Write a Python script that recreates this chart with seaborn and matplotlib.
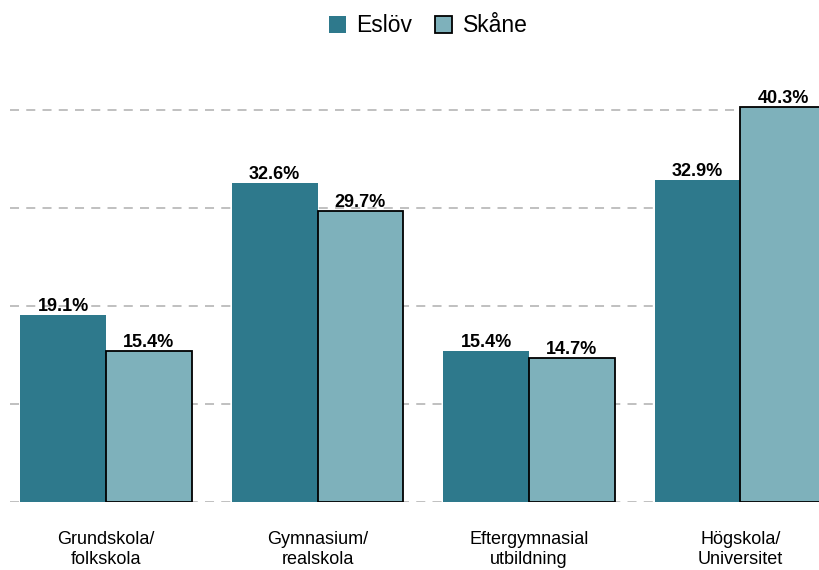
import matplotlib.pyplot as plt
import seaborn as sns
import pandas as pd

# -----------------------------
# Data
# -----------------------------
categories = ["Grundskola/\nfolkskola", "Gymnasium/\nrealskola",
              "Eftergymnasial\nutbildning", "Högskola/\nUniversitet"]
eslov = [19.1, 32.6, 15.4, 32.9]
skane = [15.4, 29.7, 14.7, 40.3]
series = ["Eslöv", "Skåne"]
colors = ["#2E798C", "#7EB1BB"]

df = pd.DataFrame({
    "Utbildning": categories * 2,
    "Andel": eslov + skane,
    "Område": [series[0]] * 4 + [series[1]] * 4,
})

sns.set_style("white")
plt.rcParams["font.family"] = ["Liberation Sans", "DejaVu Sans"]
plt.rcParams["text.color"] = "black"
plt.rcParams["xtick.color"] = "black"

fig = plt.figure(figsize=(8.2, 5.7), dpi=100)
ax = fig.add_axes([10 / 820, 1 - 502 / 570, 810 / 820, 441 / 570])

sns.barplot(data=df, x="Utbildning", y="Andel", hue="Område",
            palette=colors, width=0.81, saturation=1, ax=ax,
            legend=False, zorder=3)

# Skåne bars get a black outline
for bar in ax.containers[1]:
    bar.set_edgecolor("black")
    bar.set_linewidth(1.3)
for bar in ax.containers[0]:
    bar.set_edgecolor("none")

for cont in ax.containers:
    ax.bar_label(cont, labels=[f"{v:.1f}%" for v in cont.datavalues],
                 padding=0, fontsize=13, fontweight="bold", color="black")

ax.set_ylim(0, 45)
ax.set_xlim(-0.454, 3.376)
ax.set_yticks([0, 10, 20, 30, 40])
ax.set_yticklabels([])
ax.tick_params(axis="y", length=0)
ax.tick_params(axis="x", length=0, pad=21, labelsize=13, labelcolor="black")
ax.yaxis.grid(True, color="#BBBBBB", linestyle=(0, (5, 4)), linewidth=1.3, zorder=0)
ax.set_axisbelow(True)
ax.set_xlabel("")
ax.set_ylabel("")
sns.despine(ax=ax, left=True, bottom=True)

handles = [
    plt.Rectangle((0, 0), 1, 1, facecolor=colors[0], edgecolor="none"),
    plt.Rectangle((0, 0), 1, 1, facecolor=colors[1], edgecolor="black", linewidth=1.3),
]
fig.legend(handles, series, loc="center", bbox_to_anchor=(428 / 820, 1 - 26 / 570),
           ncol=2, frameon=False, fontsize=16.5, handlelength=0.75, handleheight=0.75,
           handletextpad=0.45, columnspacing=1.0)

fig.savefig("out.png", dpi=100)
